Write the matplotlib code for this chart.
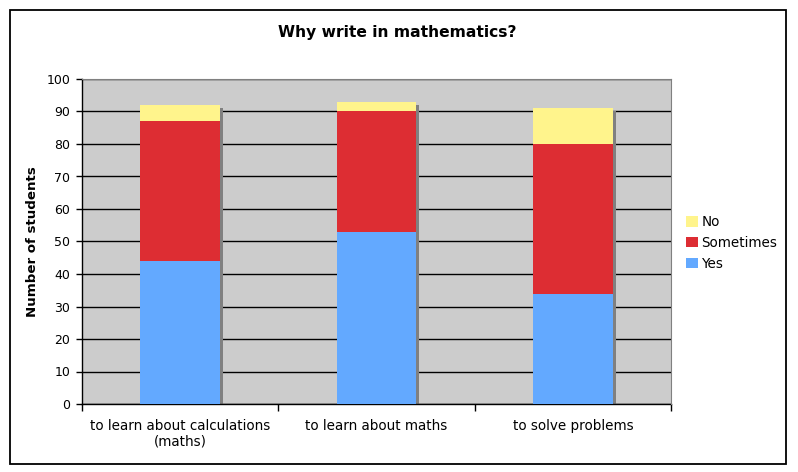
import matplotlib.pyplot as plt
import matplotlib.patches as patches
from matplotlib.transforms import ScaledTranslation
import numpy as np

# datos
categorias = ["to learn about calculations\n(maths)", "to learn about maths", "to solve problems"]
si = [44, 53, 34]
a_veces = [43, 37, 46]
no = [5, 3, 11]

col_si = "#63A9FF"
col_av = "#DD2D33"
col_no = "#FFF48C"

fig = plt.figure(figsize=(7.98, 4.72), dpi=100)
ax = fig.add_axes([82/798, 68/472, 589/798, 325/472])
ax.set_facecolor("#CCCCCC")

x = np.arange(len(categorias))
ancho = 0.407
total = np.array(si) + np.array(a_veces) + np.array(no)

# sombra de las barras (3 px a la derecha y abajo)
sombra = ax.transData + ScaledTranslation(3/100, -3/100, fig.dpi_scale_trans)
ax.bar(x, total, ancho, color="#808080", transform=sombra, zorder=2)

ax.bar(x, si, ancho, color=col_si, label="Yes", zorder=3)
ax.bar(x, a_veces, ancho, bottom=si, color=col_av, label="Sometimes", zorder=3)
ax.bar(x, no, ancho, bottom=np.array(si) + np.array(a_veces), color=col_no, label="No", zorder=3)

ax.set_ylim(0, 100)
ax.set_xlim(-0.5, 2.5)
ax.set_yticks(range(0, 101, 10))
ax.yaxis.grid(True, color="black", lw=1)
ax.set_axisbelow(True)

# ticks en los limites de categorias, etiquetas en el centro
ax.set_xticks([-0.5, 0.5, 1.5, 2.5])
ax.set_xticklabels([])
ax.set_xticks(x, minor=True)
ax.set_xticklabels(categorias, minor=True, fontsize=9.75, linespacing=1.2)
ax.tick_params(axis="x", which="major", length=5, width=1, direction="out")
ax.tick_params(axis="x", which="minor", length=0, pad=10.5)
ax.tick_params(axis="y", length=4.5, width=1, labelsize=9, pad=4)

for lado in ["top", "right"]:
    ax.spines[lado].set_color("#808080")
    ax.spines[lado].set_zorder(4)
for lado in ["left", "bottom"]:
    ax.spines[lado].set_color("black")
    ax.spines[lado].set_linewidth(1)

fig.text(397/798, (472-33)/472, "Why write in mathematics?", ha="center", va="center",
         fontsize=11.2, fontweight="bold")
fig.text(33/798, (472-242)/472, "Number of students", ha="center", va="center",
         rotation=90, fontsize=9.6, fontweight="bold")

h, l = ax.get_legend_handles_labels()
ax.legend(h[::-1], l[::-1], loc="upper left", bbox_to_anchor=(686/798, (472-215)/472),
          bbox_transform=fig.transFigure, frameon=False, fontsize=9.75, borderpad=0,
          borderaxespad=0, handlelength=0.9, handleheight=0.82, handletextpad=0.25,
          labelspacing=0.5)

# marco exterior
fig.patches.append(patches.Rectangle((10/798, 8/472), 776/798, 454/472, fill=False,
                                     edgecolor="black", lw=1.3, transform=fig.transFigure))

plt.savefig("out.png", dpi=100)
